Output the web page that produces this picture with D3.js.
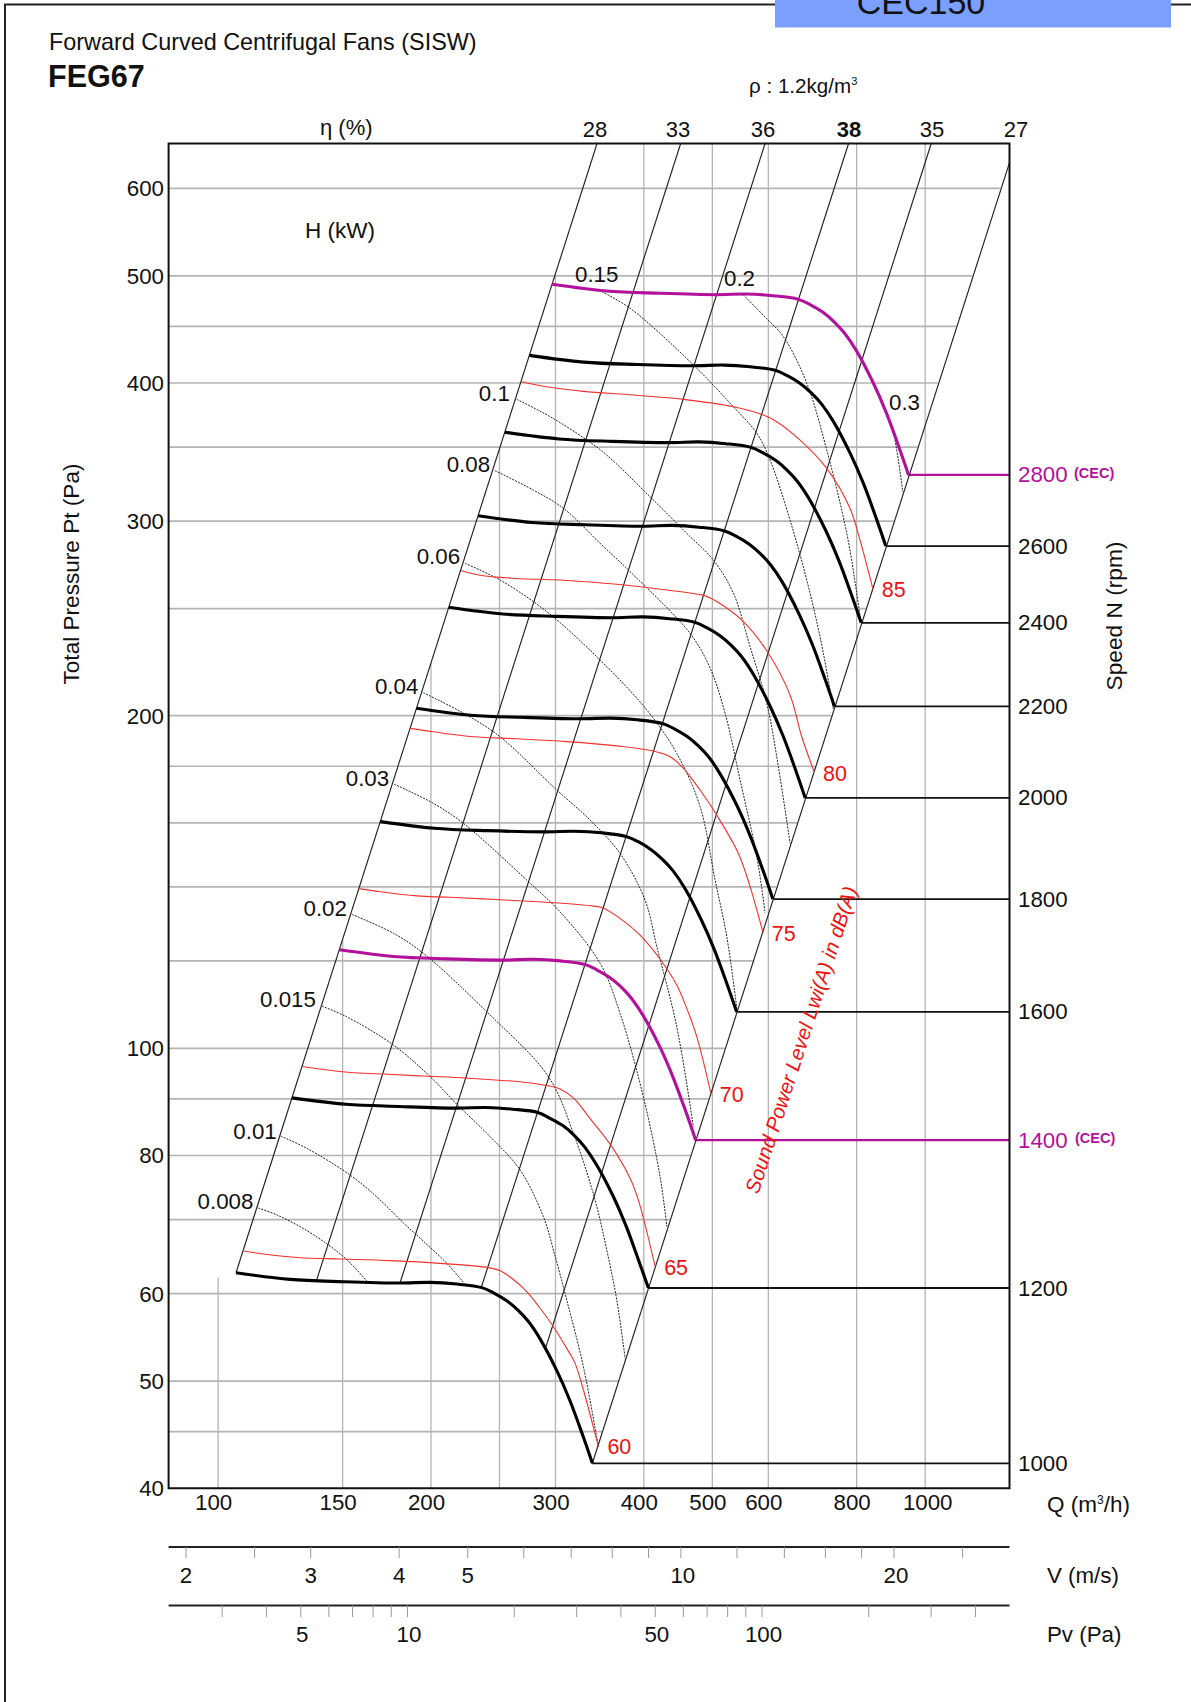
<!DOCTYPE html>
<html><head><meta charset="utf-8">
<script src="https://cdn.jsdelivr.net/npm/d3@7/dist/d3.min.js"></script>
<style>
html,body{margin:0;padding:0;background:#fff}
svg{display:block}
text{font-family:"Liberation Sans",Arial,sans-serif;fill:#111}
</style></head><body>
<div id="chart"></div>
<script>
// ---------- chart data ----------
const titleLine = "Forward Curved Centrifugal Fans (SISW)";
const modelName = "FEG67";
const boxLabel = "CEC150";
const pressureTicks = [40,50,60,80,100,200,300,400,500,600];
const pressureGrid = [45,50,60,70,80,90,100,120,140,160,180,200,250,300,350,400,450,500,600];
const flowTicks = [100,150,200,300,400,500,600,800,1000];
const flowGrid = [100,150,200,250,300,400,500,600,800,1000];
const velocityTicks = [2,2.5,3,4,5,6,7,8,9,10,12,14,16,18,20,25];
const velocityLabels = [2,3,4,5,10,20];
const dynamicTicks = [3,4,5,6,7,8,9,10,20,30,40,50,60,70,80,90,100,200,300,400];
const dynamicLabels = [5,10,50,100];

const speeds = [1000,1200,1400,1600,1800,2000,2200,2400,2600,2800];
const cecSpeeds = [1400,2800];
const fanQ = {
 1000:[106.0,126.4,150.4,180.9,199.4,217.6,236.0,245.1,256.3,265.9,274.7,285.3,301.3,314.6,328.6,338.3],
 1200:[127.2,151.7,180.5,217.1,239.3,261.1,283.2,294.1,307.6,319.1,329.6,342.4,361.6,377.5,394.3,406.0],
 1400:[148.4,177.0,210.6,253.3,279.2,304.6,330.4,343.1,358.8,372.3,384.6,399.4,421.8,440.4,460.0,473.6],
 1600:[169.6,202.2,240.6,289.4,319.0,348.2,377.6,392.2,410.1,425.4,439.5,456.5,482.1,503.4,525.8,541.3],
 1800:[190.8,227.5,270.7,325.6,358.9,391.7,424.8,441.2,461.3,478.6,494.5,513.5,542.3,566.3,591.5,608.9],
 2000:[212.0,252.8,300.8,361.8,398.8,435.2,472.0,490.2,512.6,531.8,549.4,570.6,602.6,629.2,657.2,676.6],
 2200:[233.2,278.1,330.9,398.0,438.7,478.7,519.2,539.2,563.9,585.0,604.3,627.7,662.9,692.1,722.9,744.3],
 2400:[254.4,303.4,361.0,434.2,478.6,522.2,566.4,588.2,615.1,638.2,659.3,684.7,723.1,755.0,788.6,811.9],
 2600:[275.6,328.6,391.0,470.3,518.4,565.8,613.6,637.3,666.4,691.3,714.2,741.8,783.4,818.0,854.4,879.6],
 2800:[296.8,353.9,421.1,506.5,558.3,609.3,660.8,686.3,717.6,744.5,769.2,798.8,843.6,880.9,920.1,947.2]
};
const fanP = {
 1000:[62.67,61.80,61.50,61.33,61.42,61.20,60.75,60.10,59.08,57.90,56.60,54.60,51.10,47.97,44.47,42.13],
 1200:[90.2,89.0,88.6,88.3,88.4,88.1,87.5,86.5,85.1,83.4,81.5,78.6,73.6,69.1,64.0,60.7],
 1400:[122.8,121.1,120.5,120.2,120.4,120.0,119.1,117.8,115.8,113.5,110.9,107.0,100.2,94.0,87.2,82.6],
 1600:[160.4,158.2,157.4,157.0,157.2,156.7,155.5,153.9,151.2,148.2,144.9,139.8,130.8,122.8,113.8,107.9],
 1800:[203.1,200.2,199.3,198.7,199.0,198.3,196.8,194.7,191.4,187.6,183.4,176.9,165.6,155.4,144.1,136.5],
 2000:[250.7,247.2,246.0,245.3,245.7,244.8,243.0,240.4,236.3,231.6,226.4,218.4,204.4,191.9,177.9,168.5],
 2200:[303.3,299.1,297.7,296.8,297.3,296.2,294.0,290.9,285.9,280.2,273.9,264.3,247.3,232.2,215.2,203.9],
 2400:[361.0,356.0,354.2,353.3,353.8,352.5,349.9,346.2,340.3,333.5,326.0,314.5,294.3,276.3,256.1,242.7],
 2600:[423.7,417.8,415.7,414.6,415.2,413.7,410.7,406.3,399.4,391.4,382.6,369.1,345.4,324.3,300.6,284.8],
 2800:[491.3,484.5,482.2,480.8,481.5,479.8,476.3,471.2,463.2,453.9,443.7,428.1,400.6,376.1,348.6,330.3]
};

const soundLevels = [60,65,70,75,80,85];
const soundQ = {
 60:[108.6,115.9,130.6,148.8,175.1,206.0,241.2,250.5,260.2,273.2,285.3,298.0,311.2,319.8,328.6,345.0],
 65:[131.6,140.9,153.7,171.3,195.2,224.7,270.3,293.2,304.5,318.0,335.8,360.4,382.5,393.0,415.0],
 70:[158.3,169.5,191.0,212.9,250.5,294.8,339.5,348.8,370.2,395.1,421.8,445.3,460.0,475.3,497.4],
 75:[186.9,201.6,229.7,264.5,311.2,366.3,412.7,435.7,455.1,480.4,507.2,544.3,565.4,589.3],
 80:[220.6,234.7,264.5,304.5,366.3,431.0,488.3,507.2,553.2,600.1,644.0,669.0,696.5],
 85:[268.8,294.8,328.6,386.7,455.1,535.5,590.5,616.7,665.4,725.7,783.0,808.8,843.0]
};
const soundP = {
 60:[65.56,65.15,64.66,64.48,64.26,63.90,63.33,62.93,61.94,60.24,58.19,56.0,53.53,51.88,49.08,43.61],
 65:[96.3,95.7,95.1,94.8,94.4,94.0,93.2,92.5,91.9,90.2,86.4,81.5,76.3,72.9,63.5],
 70:[139.5,138.6,137.4,137.0,136.3,135.5,134.5,134.1,131.1,126.6,120.4,114.1,108.7,102.5,91.2],
 75:[194.8,193.4,191.4,190.6,189.5,187.8,185.8,183.6,179.2,171.3,162.6,150.1,140.1,127.5],
 80:[270.7,268.0,266.2,265.3,263.0,259.9,256.7,253.7,243.3,227.8,208.8,191.4,178.0],
 85:[401.1,396.4,393.1,390.1,386.6,380.7,374.2,369.0,355.1,334.8,308.0,288.3,260.8]
};

const powerNames = ["0.008","0.01","0.015","0.02","0.03","0.04","0.06","0.08","0.1","0.15","0.2","0.3"];
const powerQ = {
 "0.008":[114.0,121.0,132.0,143.2,152.0,162.3],
 "0.01":[122.6,133.5,153.7,167.6,182.9,195.2,210.6,222.8],
 "0.015":[140.2,152.0,177.0,199.4,217.6,242.5,267.4,288.5,298.0,311.2,328.6,345.0],
 "0.02":[154.6,177.0,195.1,239.9,293.1,318.0,341.3,354.5,366.3,376.4],
 "0.03":[177.4,201.6,222.3,273.2,304.5,346.9,370.2,399.4,421.8,431.1],
 "0.04":[195.1,224.7,250.5,301.3,335.8,370.2,401.6,417.3,445.3,470.1],
 "0.06":[223.5,250.5,291.6,346.9,403.9,445.3,480.4,504.5,524.1,541.4],
 "0.08":[246.4,279.2,307.8,346.9,382.5,465.0,496.3,521.2,547.3,578.0,593.7],
 "0.1":[264.5,294.8,332.2,354.5,408.2,460.1,501.7,535.5,565.4,597.0,620.0,644.0],
 "0.15":[348.8,382.5,470.1,535.5,578.0,603.4,644.0,687.4,717.8,741.6],
 "0.2":[553.2,593.7,630.2,680.1,725.8,774.7,800.3,808.9],
 "0.3":[906.5,916.4,929.6]
};
const powerP = {
 "0.008":[71.7,70.7,68.7,66.4,64.4,61.6],
 "0.01":[83.3,81.2,76.8,73.4,69.5,66.9,63.9,61.3],
 "0.015":[109.2,106.8,100.7,94.3,89.0,83.2,77.6,70.4,65.7,59.2,51.5,43.6],
 "0.02":[132.2,127.1,121.9,107.9,94.3,83.8,72.9,65.7,59.2,52.4],
 "0.03":[173.4,166.6,159.8,142.0,132.9,119.4,107.6,90.4,76.5,69.0],
 "0.04":[209.8,200.3,191.4,171.3,160.9,150.1,136.2,123.6,104.6,84.9],
 "0.06":[274.7,265.3,248.4,224.6,202.4,184.9,165.5,142.0,126.2,108.8],
 "0.08":[333.2,320.0,308.1,286.4,270.0,237.4,220.9,201.0,174.9,149.1,132.6],
 "0.1":[386.6,372.9,355.2,344.2,315.6,292.4,276.6,258.1,230.9,205.2,179.8,153.3],
 "0.15":[483.8,467.4,415.3,380.7,360.2,340.7,300.6,258.1,227.8,202.4],
 "0.2":[480.5,458.9,440.5,399.7,347.8,292.4,258.1,245.9],
 "0.3":[355.1,340.6,318.8]
};

const efficiencyLabels = ["28","33","36","38","35","27"];
const efficiencyBottomQ = [106.0,137.9,181.0,235.9,290.0,338.3];
const efficiencyBottomP = [62.67,61.78,61.47,60.92,53.4,42.13];
const efficiencyTopQ = [343.5,451.0,593.7,779.2,1020,1316];
const efficiencyTopP = [658.8,658.8,658.8,658.8,658.8,633];

// ---------- layout ----------
const W = 1191, H = 1702;
const plot = {l:168.6, r:1009.5, t:143.5, b:1488.2};
const flowDomain = [85.1,1316], pressDomain = [40,658.8];
const x = d3.scaleLog().domain(flowDomain).range([plot.l,plot.r]);
const y = d3.scaleLog().domain(pressDomain).range([plot.b,plot.t]);
const xV = d3.scaleLog().domain([2,20]).range([186,894]);
const xPv = d3.scaleLog().domain([5,100]).range([300.8,762]);

const GRID="#b4b4b4", RED="#f4302c", MAG="#b3109b", INK="#111";
const svg = d3.select("#chart").append("svg").attr("width",W).attr("height",H);
const smooth = d3.line().x(d=>x(d[0])).y(d=>y(d[1])).curve(d3.curveCatmullRom.alpha(0.5));
const zip = (a,b)=>a.map((v,i)=>[v,b[i]]);
const label=(t,px,py,o={})=>svg.append("text").text(t).attr("x",px).attr("y",py)
  .attr("font-size",o.size||22.3).attr("text-anchor",o.anchor||"start")
  .attr("font-weight",o.weight||null).attr("font-style",o.style||null)
  .style("fill",o.fill||INK).attr("transform",o.rot!=null?`rotate(${o.rot} ${px} ${py})`:null);

// page frame + box
svg.append("path").attr("d",`M5 ${H}V4.5H${W}`).attr("fill","none").attr("stroke","#222").attr("stroke-width",2);
svg.append("rect").attr("x",775).attr("y",0).attr("width",396).attr("height",27.5).attr("fill","#7b9ffd");
label(boxLabel,921,14,{size:34,anchor:"middle"});

// titles
label(titleLine,49,50,{size:23.4});
label(modelName,48,87,{size:30.5,weight:"bold"});
const rho=label("ρ : 1.2kg/m",749,93,{size:20.6});
rho.append("tspan").text("3").attr("dy",-8).attr("font-size",11);

// grid
const k27 = efficiencyBottomQ[5]/Math.sqrt(efficiencyBottomP[5]);
pressureGrid.forEach(p=>{
  const xe = Math.min(x(k27*Math.sqrt(p)),plot.r);
  svg.append("line").attr("x1",plot.l).attr("x2",xe).attr("y1",y(p)).attr("y2",y(p)).attr("stroke",GRID).attr("stroke-width",1.7);
});
const k28 = efficiencyBottomP[0]/(efficiencyBottomQ[0]*efficiencyBottomQ[0]);
flowGrid.forEach(q=>{
  const pTop = q===flowGrid[0] ? 62 : Math.min(k28*q*q,pressDomain[1]);
  svg.append("line").attr("x1",x(q)).attr("x2",x(q)).attr("y1",plot.b).attr("y2",y(pTop)).attr("stroke",GRID).attr("stroke-width",1.3);
});

// speed lines to the right edge
speeds.forEach(n=>{
  const qe=fanQ[n][fanQ[n].length-1], pe=fanP[n][fanP[n].length-1], cec=cecSpeeds.includes(n);
  svg.append("line").attr("x1",x(qe)).attr("x2",plot.r).attr("y1",y(pe)).attr("y2",y(pe))
    .attr("stroke",cec?MAG:"#111").attr("stroke-width",cec?2.2:1.8);
  label(n,1018,y(pe)+7.5,{fill:cec?MAG:INK});
  if(cec) label("(CEC)",n===2800?1074:1075,y(pe)+3,{fill:MAG,size:14.5,weight:"bold"});
});

// efficiency lines
efficiencyLabels.forEach((e,i)=>{
  svg.append("line").attr("x1",x(efficiencyBottomQ[i])).attr("y1",y(efficiencyBottomP[i]))
    .attr("x2",x(efficiencyTopQ[i])).attr("y2",y(efficiencyTopP[i])).attr("stroke","#222").attr("stroke-width",1.15);
});

// power curves
powerNames.forEach(h=>{
  svg.append("path").attr("d",smooth(zip(powerQ[h],powerP[h]))).attr("fill","none")
    .attr("stroke","#222").attr("stroke-width",1).attr("stroke-dasharray","2 1.2");
});

// sound curves
soundLevels.forEach(s=>{
  const pts=zip(soundQ[s],soundP[s]);
  svg.append("path").attr("d",smooth(pts)).attr("fill","none").attr("stroke",RED).attr("stroke-width",1.1);
  const e=pts[pts.length-1];
  label(s,x(e[0])+9,y(e[1])+(s===60?7:9),{fill:"#f01010",size:21.5});
});

// fan curves
speeds.forEach(n=>{
  const cec=cecSpeeds.includes(n);
  svg.append("path").attr("d",smooth(zip(fanQ[n],fanP[n]))).attr("fill","none")
    .attr("stroke",cec?MAG:"#000").attr("stroke-width",3.1).attr("stroke-linejoin","round");
});

// plot border
svg.append("path").attr("d",`M${plot.l} ${plot.t}H${plot.r}V${plot.b}H${plot.l}Z`).attr("fill","none").attr("stroke","#111").attr("stroke-width",2);

// pressure labels
pressureTicks.forEach(p=>label(p,164,y(p)+8,{anchor:"end"}));
// flow labels
flowTicks.forEach(q=>label(q,x(q)+(q===1000?2.5:-4.5),1510,{anchor:"middle"}));
const qt=label("Q (m",1047,1512,{size:22.5});
qt.append("tspan").text("3").attr("dy",-8).attr("font-size",12);
qt.append("tspan").text("/h)").attr("dy",8);
// efficiency labels
const effX=[595,678,763,849,932,1016];
efficiencyLabels.forEach((e,i)=>label(e,effX[i],137,{anchor:"middle",weight:e==="38"?"bold":null,size:22}));
label("η (%)",320,135,{size:22});
label("H (kW)",305,238,{size:22.5});
// power labels
const powerOffsets={"0.008":[-5,1],"0.01":[-4,3],"0.015":[-6,1],"0.02":[-5,2],"0.03":[-5,2],"0.04":[-5,1],"0.06":[-5,1],"0.08":[-5,1],"0.1":[-7,2]};
powerNames.slice(0,9).forEach(h=>{
  const o=powerOffsets[h];
  label(h,x(powerQ[h][0])+o[0],y(powerP[h][0])+o[1],{anchor:"end"});
});
label("0.15",575,282);
label("0.2",724,286);
label("0.3",889,410);

// axis titles
label("Total Pressure Pt (Pa)",79,574,{anchor:"middle",rot:-90,size:22.6});
label("Speed N (rpm)",1122,616,{anchor:"middle",rot:-90,size:22.7});
label("Sound Power Level Lwi(A) in dB(A)",808,1042,{anchor:"middle",rot:-72,size:20.5,style:"italic",fill:"#f01010"});

// V scale
svg.append("line").attr("x1",plot.l).attr("x2",plot.r).attr("y1",1547).attr("y2",1547).attr("stroke","#222").attr("stroke-width",2.2);
velocityTicks.forEach(v=>svg.append("line").attr("x1",xV(v)).attr("x2",xV(v)).attr("y1",1547).attr("y2",1558).attr("stroke","#999").attr("stroke-width",1));
velocityLabels.forEach(v=>label(v,xV(v)+(v>=10?2:0),1583,{anchor:"middle"}));
label("V (m/s)",1047,1583);
// Pv scale
svg.append("line").attr("x1",plot.l).attr("x2",plot.r).attr("y1",1605.5).attr("y2",1605.5).attr("stroke","#222").attr("stroke-width",2.2);
dynamicTicks.forEach(p=>svg.append("line").attr("x1",xPv(p)).attr("x2",xPv(p)).attr("y1",1605.5).attr("y2",1617).attr("stroke","#999").attr("stroke-width",1));
dynamicLabels.forEach(p=>label(p,xPv(p)+1.5,1642,{anchor:"middle"}));
label("Pv (Pa)",1047,1642);
</script></body></html>
